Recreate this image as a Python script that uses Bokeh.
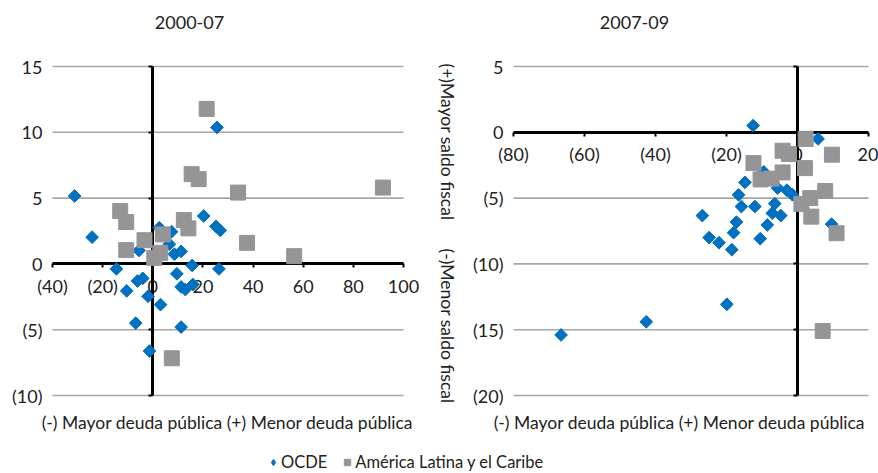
import math
from bokeh.plotting import figure
from bokeh.models import (Range1d, LinearAxis, FixedTicker, Label,
                          Legend, LegendItem)
from bokeh.embed import file_html
from bokeh.resources import INLINE

# ---------------- data ----------------
titles = ["2000-07", "2007-09"]
x_title = "(-) Mayor deuda pública (+) Menor deuda pública"
y_title_top = "(+)Mayor saldo fiscal"
y_title_bottom = "(-)Menor saldo fiscal"
series_names = ["OCDE", "América Latina y el Caribe"]

# Panel 1: 2000-07
ocde_00_x = [-31.2, -24.2, -14.5, -10.4, -5.5, -6.1, -4.0, -1.9, -6.8, -1.3,
             3.1, 2.6, 7.5, 6.6, 8.6, 11.3, 9.6, 11.3, 13.0, 16.0,
             15.7, 11.3, 20.3, 25.2, 26.9, 25.6, 26.4]
ocde_00_y = [5.16, 2.03, -0.38, -2.05, 1.02, -1.30, -1.10, -2.46, -4.50, -6.62,
             -3.10, 2.75, 2.45, 1.50, 0.74, 0.95, -0.75, -1.75, -1.95, -1.57,
             -0.12, -4.80, 3.64, 2.85, 2.55, 10.37, -0.38]
alc_00_x = [21.5, 15.5, 18.3, 34.0, 91.8, -13.0, -10.6, 12.4, 14.2, -10.6,
            -3.3, 4.0, 37.6, 56.4, 0.6, 3.0, 7.6]
alc_00_y = [11.78, 6.82, 6.44, 5.42, 5.80, 4.02, 3.18, 3.33, 2.70, 1.05,
            1.80, 2.24, 1.60, 0.59, 0.46, 0.84, -7.17]

# Panel 2: 2007-09
ocde_07_x = [-12.5, 5.8, -14.8, -9.5, -16.6, -15.8, -12.0, -5.6, -3.0, -1.4,
             -6.4, -7.1, -4.7, -8.5, -10.5, -26.8, -24.9, -22.1, -17.2, -18.0,
             -18.5, -19.9, -42.6, -66.6, 9.6]
ocde_07_y = [0.51, -0.50, -3.81, -3.00, -4.75, -5.64, -5.64, -4.24, -4.40, -4.75,
             -5.42, -6.15, -6.33, -7.04, -8.08, -6.33, -8.00, -8.39, -6.82, -7.63,
             -8.92, -13.07, -14.40, -15.40, -6.98]
alc_07_x = [2.3, -4.2, -2.4, 9.7, -12.4, 2.1, -4.2, -10.4, -7.3, 7.8,
            3.6, 1.1, 3.9, 11.0, 7.1]
alc_07_y = [-0.50, -1.40, -1.65, -1.70, -2.34, -2.72, -3.05, -3.58, -3.52, -4.46,
            -5.00, -5.44, -6.41, -7.67, -15.10]

x_ticks_00 = [-40, -20, 0, 20, 40, 60, 80, 100]
y_ticks_00 = [-10, -5, 0, 5, 10, 15]
x_ticks_07 = [-80, -60, -40, -20, 0, 20]
y_ticks_07 = [-20, -15, -10, -5, 0, 5]

# ---------------- layout (pixels) ----------------
W, H = 878, 473
P1_LEFT, P1_RIGHT = 52, 403     # pixel of first / last x tick, panel 1
P2_LEFT, P2_RIGHT = 513, 868    # panel 2
TOP, BOTTOM = 66, 395           # pixel of top / bottom y tick (both panels)

FONT = "Lato"
FS_TICK = "18px"
FS_TEXT = "17.5px"
FS_TITLE = "18px"
FS_LEG = "16.5px"
TXT = "#222222"
BLUE = "#0070C0"
GRAY = "#959597"
GRID = "#A6A6A6"


def paren(t):
    return f"({abs(t)})" if t < 0 else f"{t}"


def x_range_for(ticks, px0, px1):
    s = (px1 - px0) / (ticks[-1] - ticks[0])
    return Range1d(ticks[0] - px0 / s, ticks[-1] + (W - px1) / s), s


def y_range_for(ticks):
    s = (BOTTOM - TOP) / (ticks[-1] - ticks[0])
    return Range1d(ticks[0] - (H - BOTTOM) / s, ticks[-1] + TOP / s), s


xr1, sx1 = x_range_for(x_ticks_00, P1_LEFT, P1_RIGHT)
yr1, sy1 = y_range_for(y_ticks_00)
xr2, sx2 = x_range_for(x_ticks_07, P2_LEFT, P2_RIGHT)
yr2, sy2 = y_range_for(y_ticks_07)

p = figure(width=W, height=H, x_range=xr1, y_range=yr1,
           x_axis_type=None, y_axis_type=None,
           output_backend="svg", toolbar_location=None, min_border=0)
p.extra_x_ranges = {"x2": xr2}
p.extra_y_ranges = {"y2": yr2}
p.outline_line_color = None
p.xgrid.visible = False
p.ygrid.visible = False


def px_to_data(px, py):
    return xr1.start + px / sx1, yr1.end - py / sy1


def panel(xs, ys, xs2, ys2, xticks, yticks, xname, yname):
    kw = {}
    if xname:
        kw = dict(x_range_name=xname, y_range_name=yname)
    n = len(yticks)
    # horizontal grid lines limited to the panel's axis extent
    p.segment(x0=[xticks[0]] * n, x1=[xticks[-1]] * n, y0=yticks, y1=yticks,
              line_color=GRID, line_width=1.6, level="underlay", **kw)

    # y tick labels at the left edge (no line)
    p.add_layout(LinearAxis(ticker=FixedTicker(ticks=yticks),
                            fixed_location=xticks[0],
                            bounds=(yticks[0], yticks[-1]),
                            major_label_overrides={t: paren(t) for t in yticks},
                            axis_line_color=None, major_tick_line_color=None,
                            major_tick_out=0, major_tick_in=0,
                            minor_tick_line_color=None,
                            major_label_standoff=10,
                            major_label_text_font=FONT,
                            major_label_text_font_size=FS_TICK,
                            major_label_text_color=TXT, **kw), "left")

    # vertical black axis through x = 0 (no labels)
    p.add_layout(LinearAxis(ticker=FixedTicker(ticks=yticks), fixed_location=0,
                            bounds=(yticks[0], yticks[-1]),
                            axis_line_color="black", axis_line_width=3,
                            major_tick_line_color="black", major_tick_line_width=2,
                            major_tick_out=4, major_tick_in=0,
                            minor_tick_line_color=None,
                            major_label_text_color=None, **kw), "left")

    # horizontal black axis through y = 0 with labels below
    p.add_layout(LinearAxis(ticker=FixedTicker(ticks=xticks), fixed_location=0,
                            bounds=(xticks[0], xticks[-1]),
                            major_label_overrides={t: paren(t) for t in xticks},
                            axis_line_color="black", axis_line_width=3,
                            major_tick_line_color="black", major_tick_line_width=2,
                            major_tick_out=4, major_tick_in=0,
                            minor_tick_line_color=None,
                            major_label_standoff=7,
                            major_label_text_font=FONT,
                            major_label_text_font_size=FS_TICK,
                            major_label_text_color=TXT, **kw), "below")

    p.scatter(xs, ys, marker="square", angle=math.pi / 4, size=9,
              fill_color=BLUE, line_color=BLUE, level="annotation", **kw)
    p.scatter(xs2, ys2, marker="square", size=15,
              fill_color=GRAY, line_color=GRAY, level="annotation", **kw)


panel(ocde_00_x, ocde_00_y, alc_00_x, alc_00_y,
      x_ticks_00, y_ticks_00, None, None)
panel(ocde_07_x, ocde_07_y, alc_07_x, alc_07_y,
      x_ticks_07, y_ticks_07, "x2", "y2")

# hidden renderers that only provide the (smaller) legend symbols
r_leg_ocde = p.scatter(ocde_00_x, ocde_00_y, marker="diamond", size=9,
                       fill_color=BLUE, line_color=BLUE, visible=False)
r_leg_alc = p.scatter(alc_00_x, alc_00_y, marker="square", size=8.5,
                      fill_color=GRAY, line_color=GRAY, visible=False)


def add_text(txt, px, py, size=FS_TEXT, align="center", angle=0.0):
    x, y = px_to_data(px, py)
    p.add_layout(Label(x=x, y=y, text=txt, text_align=align,
                       text_baseline="middle", angle=angle,
                       text_font=FONT, text_font_size=size, text_color=TXT))


add_text(titles[0], 189, 22, size=FS_TITLE)
add_text(titles[1], 634, 22, size=FS_TITLE)
add_text(x_title, 227, 422)
add_text(x_title, 679, 422)
add_text(y_title_top, 447, 63, align="left", angle=-math.pi / 2)
add_text(y_title_bottom, 447, 248, align="left", angle=-math.pi / 2)

legend = Legend(items=[LegendItem(label=series_names[0], renderers=[r_leg_ocde]),
                       LegendItem(label=series_names[1], renderers=[r_leg_alc])],
                orientation="horizontal", location=(265, 1),
                border_line_color=None, background_fill_alpha=0,
                inactive_fill_alpha=0,
                padding=0, margin=0, spacing=12, label_standoff=0,
                glyph_width=16, glyph_height=18, label_height=18,
                label_text_font=FONT, label_text_font_size=FS_LEG,
                label_text_color=TXT)
p.add_layout(legend)

open("out.html", "w").write(file_html(p, INLINE))
